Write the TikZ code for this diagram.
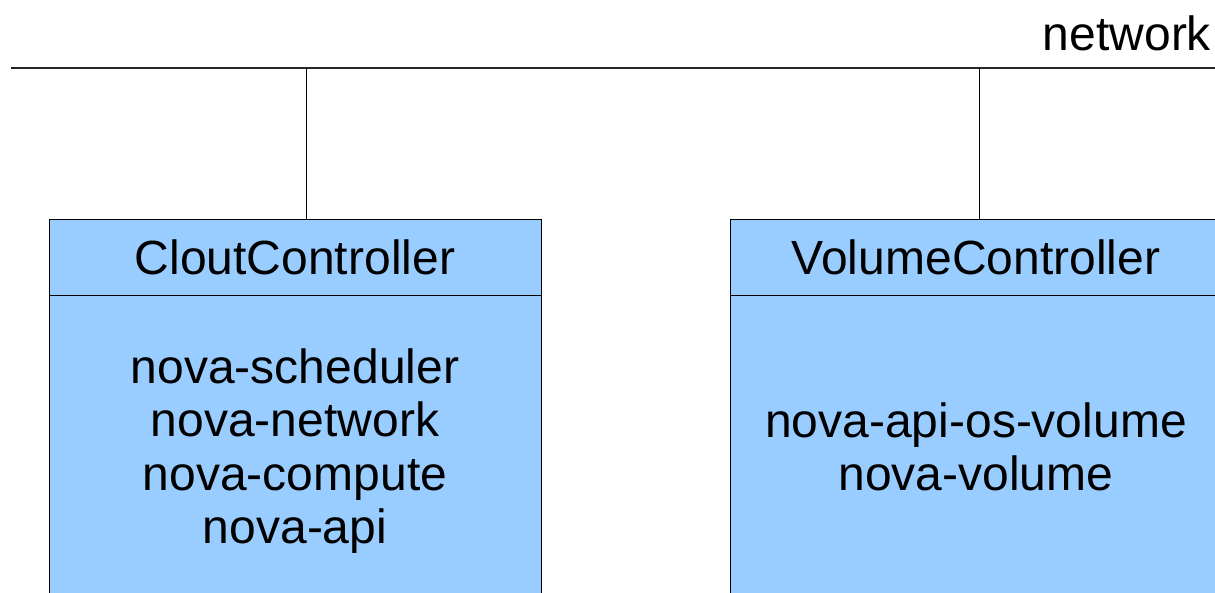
\documentclass[tikz,border=0pt]{standalone}
\usepackage{fontspec}
\setmainfont{Liberation Sans}
\definecolor{boxblue}{HTML}{99CCFF}
\begin{document}
\begin{tikzpicture}[x=1pt,y=-1pt,
  every node/.style={inner sep=0pt, outer sep=0pt},
  big/.style={font=\fontsize{48}{53.5}\selectfont},
  hdr/.style={draw=black, fill=boxblue, line width=0.9pt, minimum width=492pt, minimum height=76pt, anchor=north west, big},
  bodybox/.style={draw=black, fill=boxblue, line width=0.9pt, minimum width=492pt, minimum height=400pt, anchor=north west},
  lines/.style={big, align=center},
  wire/.style={draw=black, line width=0.9pt}
]
\useasboundingbox (0,0) rectangle (1215,593);
\clip (0,0) rectangle (1215,593);
% network bus
\coordinate (netL) at (11,68);
\coordinate (netR) at (1215,68);
\draw[line width=1.3pt, draw=black!85] (netL) -- (netR);
\node[big, anchor=base east] (netlabel) at (1211,51) {network};
% left box
\node[bodybox] (cbody) at (49,295) {};
\node[hdr] (chead) at (49,219) {CloutController};
\node[lines] (ctext) at (295,451) {nova-scheduler\\nova-network\\nova-compute\\nova-api};
% right box
\node[bodybox] (vbody) at (730,295) {};
\node[hdr] (vhead) at (730,219) {VolumeController};
\node[lines] (vtext) at (976,447) {nova-api-os-volume\\nova-volume};
% connectors
\coordinate (tapC) at (306,68);
\coordinate (tapV) at (979,68);
\draw[wire] (tapC) -- (tapC |- chead.north);
\draw[wire] (tapV) -- (tapV |- vhead.north);
\end{tikzpicture}
\end{document}
